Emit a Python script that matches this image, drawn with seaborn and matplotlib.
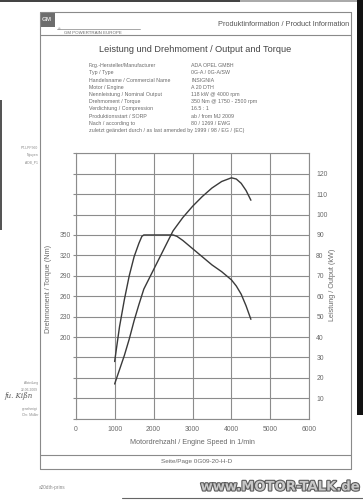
import numpy as np
import pandas as pd
import seaborn as sns
import matplotlib.pyplot as plt
import matplotlib.patheffects as pe
from matplotlib.patches import Rectangle
from matplotlib.lines import Line2D

# engine data
rpm_t = [1000, 1125, 1250, 1375, 1500, 1625, 1700, 1750, 2500, 2600, 2750,
         3000, 3250, 3500, 3750, 4000, 4125, 4250, 4375, 4500]
torque_nm = [164, 215, 255, 290, 318, 338, 348, 350, 350, 348, 342,
             330, 318, 306, 296, 284, 275, 263, 246, 226]
rpm_p = [1000, 1125, 1250, 1375, 1500, 1625, 1750, 2000, 2250, 2500, 2750,
         3000, 3250, 3500, 3750, 4000, 4125, 4250, 4375, 4500]
power_kw = [17, 24, 31, 39, 48, 56, 63.5, 73, 82.5, 92, 98.5,
            104, 108.8, 113, 116.2, 118, 117.4, 115.3, 111.8, 107]

rpm_ticks = [0, 1000, 2000, 3000, 4000, 5000, 6000]
kw_ticks = list(range(0, 131, 10))
nm_ticks = [200, 230, 260, 290, 320, 350]

spec_labels = ["Fzg.-Hersteller/Manufacturer", "Typ / Type",
               "Handelsname / Commercial Name", "Motor / Engine",
               "Nennleistung / Nominal Output", "Drehmoment / Torque",
               "Verdichtung / Compression", "Produktionsstart / SORP",
               "Nach / according to"]
spec_values = ["ADA OPEL GMBH", "0G-A / 0G-A/SW", "INSIGNIA", "A 20 DTH",
               "118 kW @ 4000 rpm", "350 Nm @ 1750 - 2500 rpm", "16.5 : 1",
               "ab / from MJ 2009", "80 / 1269 / EWG"]

sns.set_style("white")
plt.rcParams['font.family'] = ['Liberation Sans', 'DejaVu Sans']

W, H = 363, 500
fig = plt.figure(figsize=(W / 100, H / 100), dpi=100)
fig.patch.set_facecolor("white")

def fx(x):
    return x / W

def fy(y):
    return 1 - y / H

txt = "#6a6a6a"
frame = "#8a8a8a"

def hline(x0, x1, y, c=frame, lw=0.8):
    fig.add_artist(Line2D([fx(x0), fx(x1)], [fy(y), fy(y)], color=c, lw=lw))

def vline(x, y0, y1, c=frame, lw=0.8):
    fig.add_artist(Line2D([fx(x), fx(x)], [fy(y0), fy(y1)], color=c, lw=lw))

# scan edges
fig.add_artist(Rectangle((0, fy(2)), fx(240), 2 / H, color="#444444", lw=0))
fig.add_artist(Rectangle((fx(240), fy(1.5)), fx(123), 1.5 / H, color="#aaaaaa", lw=0))
fig.add_artist(Rectangle((fx(357), fy(415)), fx(6), 415 / H, color="#111111", lw=0))
fig.add_artist(Rectangle((0, fy(230)), fx(1.5), 130 / H, color="#555555", lw=0))

# document frame
hline(40, 351, 12)
hline(40, 351, 35)
hline(40, 351, 455)
hline(40, 351, 469)
vline(40, 12, 469)
vline(351, 12, 469)

# logo
fig.add_artist(Rectangle((fx(40), fy(27)), fx(14.5), 15 / H, color="#6d6d6d", lw=0))
fig.text(fx(47.2), fy(19.5), "GM", color="#e0e0e0", fontsize=4.5, fontweight="bold",
         ha="center", va="center")
hline(57, 140, 28.5, c="#999999", lw=0.6)
fig.text(fx(58), fy(29.5), "®", color=txt, fontsize=2.5, va="center")
fig.text(fx(64), fy(32.5), "GM POWERTRAIN EUROPE", color=txt, fontsize=3.2, va="center")

fig.text(fx(349), fy(24), "Produktinformation / Product Information", color="#555555",
         fontsize=5.3, ha="right", va="center")
fig.text(fx(195), fy(49), "Leistung und Drehmoment / Output and Torque", color="#444444",
         fontsize=6.6, ha="center", va="center")

for i, (lab, val) in enumerate(zip(spec_labels, spec_values)):
    y = 65.7 + i * 7.2
    fig.text(fx(89), fy(y), lab, color=txt, fontsize=3.8, va="center")
    fig.text(fx(191), fy(y), val, color=txt, fontsize=3.8, va="center")
fig.text(fx(89), fy(65.7 + 9 * 7.2),
         "zuletzt geändert durch / as last amended by 1999 / 98 / EG / (EC)",
         color=txt, fontsize=3.8, va="center")

# margin notes
for y, s in [(148, "PT-LPP360"), (155, "Nguyen"), (162, "ADB_P1"),
             (383, "Abteilung"), (390, "22.06.2009"), (409, "genehmigt"),
             (415, "Chr. Müller")]:
    fig.text(fx(38), fy(y), s, color="#888888", fontsize=2.4, ha="right", va="center")
fig.text(fx(4), fy(396), "fu. Kißn", color="#555555", fontsize=5, style="italic",
         family="DejaVu Serif", va="center")

# chart
ax = fig.add_axes([fx(75.7), fy(418.7), (309.3 - 75.7) / W, (418.7 - 153.3) / H])
ax2 = ax.twinx()
dft = pd.DataFrame({"rpm": rpm_t, "Nm": torque_nm})
dfp = pd.DataFrame({"rpm": rpm_p, "kW": power_kw})
sns.lineplot(data=dfp, x="rpm", y="kW", ax=ax, color="#3a3a3a", lw=1.0)
sns.lineplot(data=dft, x="rpm", y="Nm", ax=ax2, color="#3a3a3a", lw=1.0)

ax.set_xlim(0, 6000)
ax.set_ylim(0, 130)
ax2.set_ylim(80, 470)
ax.set_xticks(rpm_ticks)
ax.set_xticklabels([str(t) for t in rpm_ticks])
ax.set_yticks(kw_ticks)
ax.set_yticklabels(["" if t in (0, 130) else str(t) for t in kw_ticks])
ax.grid(True, color="#8c8c8c", lw=0.8)
ax.set_axisbelow(True)
ax.tick_params(axis="y", left=True, right=False, labelleft=False, labelright=True,
               length=2.5, width=0.8, color="#8c8c8c", pad=2.5, labelsize=4.9,
               labelcolor=txt)
ax.tick_params(axis="x", bottom=False, length=0, pad=5, labelsize=4.9, labelcolor=txt)
ax.set_xlabel("")
ax.set_ylabel("")
for s in ax.spines.values():
    s.set_color("#8c8c8c")
    s.set_linewidth(0.8)

ax2.set_yticks(nm_ticks)
ax2.set_yticklabels([str(t) for t in nm_ticks])
ax2.tick_params(axis="y", left=False, right=False, labelleft=True, labelright=False,
                length=0, pad=3.5, labelsize=4.9, labelcolor=txt)
ax2.set_ylabel("")
for s in ax2.spines.values():
    s.set_visible(False)

fig.text(fx(49), fy(289), "Drehmoment / Torque (Nm)", color=txt, fontsize=5.2,
         rotation=90, ha="center", va="center")
fig.text(fx(333), fy(285), "Leistung / Output (kW)", color=txt, fontsize=5.2,
         rotation=90, ha="center", va="center")
fig.text(fx(192), fy(443), "Motordrehzahl / Engine Speed in 1/min", color=txt,
         fontsize=5.2, ha="center", va="center")
fig.text(fx(197), fy(462), "Seite/Page 0G09-20-H-D", color=txt, fontsize=4.6,
         ha="center", va="center")
fig.text(fx(39), fy(488), "a20dth-prins", color="#888888", fontsize=3.4, va="center")

hline(122, 363, 497.5, c="#666666", lw=0.8)
fig.text(fx(361), fy(487), "www.MOTOR-TALK.de", color="#c8c8c8", fontsize=9.5,
         fontweight="bold", family="DejaVu Sans", ha="right", va="center",
         path_effects=[pe.withStroke(linewidth=1.6, foreground="#5a5a5a")])

fig.savefig("out.png", dpi=100, facecolor="white")
